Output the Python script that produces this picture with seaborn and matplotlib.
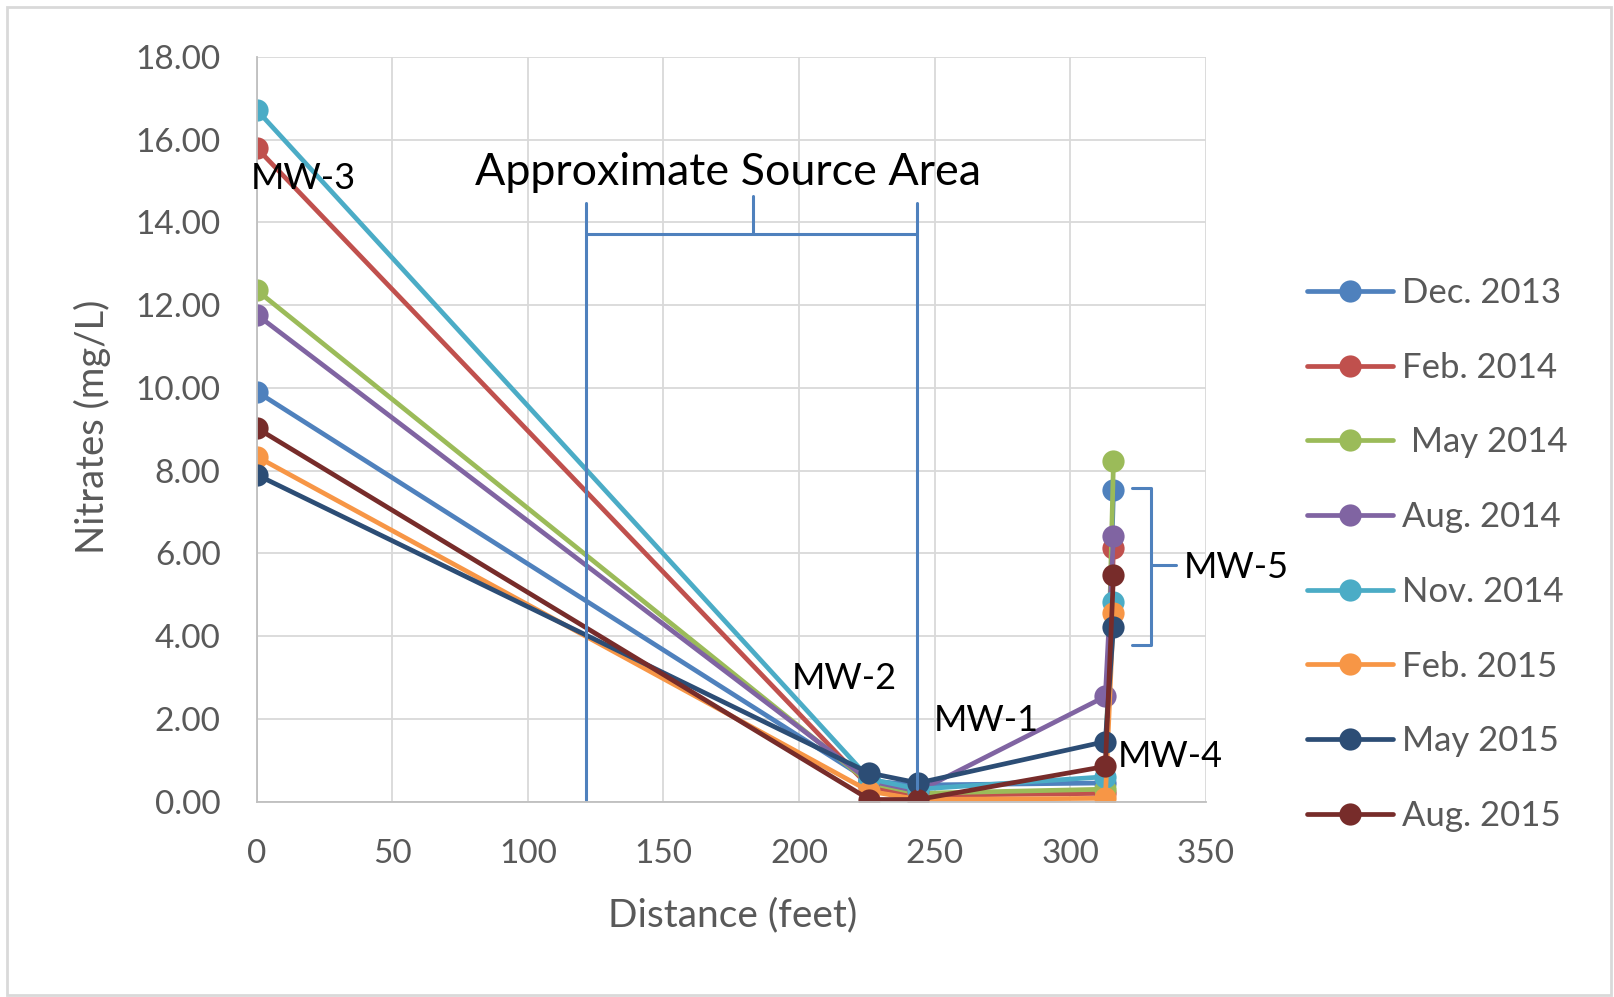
import matplotlib
matplotlib.use("Agg")
import matplotlib.pyplot as plt
import matplotlib.patches as mpatches
import seaborn as sns
import pandas as pd

# ---------------- data ----------------
wells = ["MW-3", "MW-2", "MW-1", "MW-4", "MW-5"]
distance = [0, 226, 244, 313, 316]

series_names = ["Dec. 2013", "Feb. 2014", " May 2014", "Aug. 2014",
                "Nov. 2014", "Feb. 2015", "May 2015", "Aug. 2015"]
dec_2013 = [9.91, 0.50, 0.40, 0.45, 7.53]
feb_2014 = [15.80, 0.35, 0.15, 0.20, 6.12]
may_2014 = [12.36, 0.45, 0.20, 0.30, 8.22]
aug_2014 = [11.77, 0.50, 0.25, 2.54, 6.41]
nov_2014 = [16.72, 0.55, 0.30, 0.60, 4.83]
feb_2015 = [8.34, 0.25, 0.05, 0.08, 4.55]
may_2015 = [7.90, 0.69, 0.45, 1.45, 4.23]
aug_2015 = [9.03, 0.05, 0.05, 0.85, 5.48]
series_values = [dec_2013, feb_2014, may_2014, aug_2014,
                 nov_2014, feb_2015, may_2015, aug_2015]

colors = ["#4F81BD", "#C0504D", "#9BBB59", "#8064A2",
          "#4BACC6", "#F79646", "#2C4D75", "#772C2A"]

x_ticks = [0, 50, 100, 150, 200, 250, 300, 350]
y_ticks = [0, 2, 4, 6, 8, 10, 12, 14, 16, 18]

rows = []
for name, vals in zip(series_names, series_values):
    for w, d, v in zip(wells, distance, vals):
        rows.append({"series": name, "well": w, "distance": d, "nitrate": v})
df = pd.DataFrame(rows)

# ---------------- style ----------------
sns.set_theme(style="white")
plt.rcParams["font.family"] = ["Lato", "DejaVu Sans"]

fig = plt.figure(figsize=(16.14, 9.97), dpi=100)
ax = fig.add_axes([0.159, 0.196, 0.588, 0.747])

sns.lineplot(data=df, x="distance", y="nitrate", hue="series",
             hue_order=series_names, palette=colors, marker="o",
             markersize=16, markeredgewidth=0, linewidth=3.4,
             estimator=None, sort=False, ax=ax, legend=True)

ax.set_xlim(0, 350)
ax.set_ylim(0, 18)
ax.set_xticks(x_ticks)
ax.set_yticks(y_ticks)
ax.set_xticklabels([str(t) for t in x_ticks])
ax.set_yticklabels([f"{t:.2f}" for t in y_ticks])
ax.grid(True, color="#D9D9D9", linewidth=1.3)
ax.set_axisbelow(True)
for s in ["top", "right"]:
    ax.spines[s].set_visible(False)
for s in ["left", "bottom"]:
    ax.spines[s].set_color("#BFBFBF")
    ax.spines[s].set_linewidth(1.3)
ax.tick_params(axis="y", length=0, pad=26, labelsize=24, labelcolor="#595959")
ax.tick_params(axis="x", length=0, pad=27, labelsize=24, labelcolor="#595959")

ax.set_xlabel("Distance (feet)", fontsize=28, color="#595959", va="center")
ax.set_ylabel("Nitrates (mg/L)", fontsize=27.5, color="#595959", va="center")
ax.xaxis.set_label_coords(0.502, -0.153)
ax.yaxis.set_label_coords(-0.173, 0.503)

# legend
handles, labels = ax.get_legend_handles_labels()
leg = ax.legend(handles, labels, loc="upper left",
                bbox_to_anchor=(1307 / 1614, 1 - 277 / 997),
                bbox_transform=fig.transFigure, frameon=False,
                fontsize=25, handlelength=2.48, handletextpad=0.26,
                labelspacing=1.23, borderaxespad=0, borderpad=0)
for t in leg.get_texts():
    t.set_color("#595959")
for h in leg.legend_handles:
    h.set_linewidth(3.4)
    h.set_markersize(16)

# ---------------- annotations ----------------
bc = "#4F81BD"
blw = 2.2
# source area bracket
ax.plot([121.6, 121.6], [0.05, 14.46], color=bc, lw=blw)
ax.plot([243.4, 243.4], [0.3, 14.46], color=bc, lw=blw)
ax.plot([121.6, 243.4], [13.71, 13.71], color=bc, lw=blw)
ax.plot([183.1, 183.1], [13.71, 14.63], color=bc, lw=blw)
ax.text(174, 15.2, "Approximate Source Area", fontsize=32.3, color="black",
        ha="center", va="center")

# MW-5 brace
ax.plot([323, 330, 330, 323], [7.58, 7.58, 3.79, 3.79], color=bc, lw=blw)
ax.plot([330, 339], [5.72, 5.72], color=bc, lw=blw)

lab_kw = dict(fontsize=26, color="black", va="center", ha="left")
ax.text(-2, 15.06, "MW-3", **lab_kw)
ax.text(197.5, 2.97, "MW-2", **lab_kw)
ax.text(249.9, 1.97, "MW-1", **lab_kw)
ax.text(317.4, 1.10, "MW-4", **lab_kw)
ax.text(342, 5.66, "MW-5", clip_on=False, **lab_kw)

# outer chart border
fig.patches.append(mpatches.Rectangle((7 / 1614, 2 / 997),
                                      1604 / 1614, 988 / 997,
                                      transform=fig.transFigure,
                                      fill=False, edgecolor="#D9D9D9",
                                      linewidth=2))

fig.savefig("out.png", dpi=100)
